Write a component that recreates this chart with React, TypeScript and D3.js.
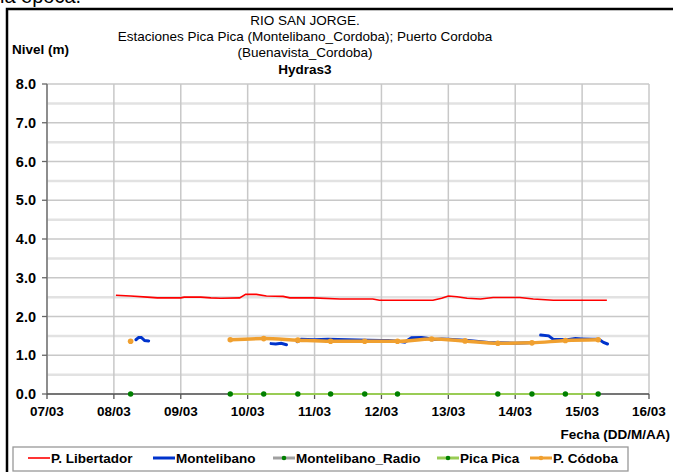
import React from "react";
import * as d3 from "d3";

// ---- DATA (decimal day of March) ----
const titleLines = [
  "RIO SAN JORGE.",
  "Estaciones Pica Pica (Montelibano_Cordoba); Puerto Cordoba",
  "(Buenavista_Cordoba)",
];
const subtitle = "Hydras3";
const yTicks = [0, 1, 2, 3, 4, 5, 6, 7, 8];
const xDays = [7, 8, 9, 10, 11, 12, 13, 14, 15, 16];

const libertador: [number, number][] = [
  [8.03, 2.55], [8.25, 2.53], [8.5, 2.5], [8.65, 2.48], [9.0, 2.48], [9.05, 2.5],
  [9.3, 2.5], [9.45, 2.48], [9.6, 2.47], [9.88, 2.48], [9.97, 2.57], [10.13, 2.57],
  [10.28, 2.53], [10.53, 2.52], [10.63, 2.48], [10.98, 2.48], [11.38, 2.45],
  [11.87, 2.45], [11.97, 2.42], [12.77, 2.42], [12.9, 2.47], [13.0, 2.53],
  [13.13, 2.51], [13.28, 2.47], [13.48, 2.45], [13.67, 2.49], [14.07, 2.49],
  [14.27, 2.45], [14.57, 2.42], [15.37, 2.42],
];

// null value = gap
const montelibano: [number, number | null][] = [
  [8.33, 1.4], [8.37, 1.46], [8.41, 1.46], [8.46, 1.38], [8.52, 1.37], [8.6, null],
  [10.35, 1.3], [10.42, 1.29], [10.5, 1.31], [10.58, 1.27], [10.66, null],
  [10.74, 1.35], [10.8, 1.41], [11.0, 1.4], [11.2, 1.41], [11.5, 1.4], [11.8, 1.39],
  [12.0, 1.38], [12.1, 1.38], [12.25, 1.36], [12.35, 1.34], [12.45, 1.45],
  [12.6, 1.46], [12.68, 1.44], [12.75, 1.4], [12.9, 1.42], [13.0, 1.41],
  [13.3, 1.38], [13.6, 1.33], [14.0, 1.31], [14.2, 1.32], [14.3, null],
  [14.38, 1.52], [14.5, 1.5], [14.57, 1.41], [14.78, 1.4], [14.9, 1.43],
  [15.0, 1.42], [15.15, 1.41], [15.25, 1.41], [15.32, 1.33], [15.38, 1.29],
];

const montelibanoRadio: [number, number | null][] = [];

const picaPica: [number, number | null][] = [
  [8.25, 0], [9.0, null], [9.74, 0], [10.24, 0], [10.75, 0], [11.24, 0],
  [11.75, 0], [12.24, 0], [13.74, 0], [14.25, 0], [14.75, 0], [15.24, 0],
];

const codoba: [number, number | null][] = [
  [8.25, 1.36], [9.0, null], [9.74, 1.4], [10.24, 1.43], [10.75, 1.39],
  [11.24, 1.36], [11.75, 1.36], [12.24, 1.36], [12.75, 1.42], [13.25, 1.37],
  [13.74, 1.31], [14.25, 1.32], [14.75, 1.38], [15.24, 1.4],
];

const legendItems = ["P. Libertador", "Montelibano", "Montelibano_Radio", "Pica Pica", "P. Códoba"];

// ---- STYLE ----
const C_RED = "#ff0000";
const C_BLUE = "#0033cc";
const C_GRAY = "#a0a0a0";
const C_GREEN_LINE = "#99cc55";
const C_GREEN_DOT = "#008000";
const C_ORANGE = "#f0a030";
const FONT = "Arial, 'Liberation Sans', sans-serif";

const W = 673, H = 472;
const plot = { left: 47, right: 649, top: 84, bottom: 394 };

const toDate = (d: number) => new Date(2011, 2, 1 + Math.floor(d) - 1, 0, 0, 0, Math.round((d - Math.floor(d)) * 86400000));

export default function App() {
  const x = d3.scaleTime().domain([toDate(7), toDate(16)]).range([plot.left, plot.right]);
  const y = d3.scaleLinear().domain([0, 8]).range([plot.bottom, plot.top]);
  const fmt = d3.timeFormat("%d/%m");

  const line = d3
    .line<[number, number | null]>()
    .defined((d) => d[1] !== null)
    .x((d) => x(toDate(d[0])))
    .y((d) => y(d[1] as number));

  const minorY = d3.range(0.5, 8, 1);
  const legendX = [28, 153, 273, 437, 530];
  const legendY = 458;

  return (
    <svg width={W} height={H} style={{ position: "absolute", left: 0, top: 0, background: "#fff" }} fontFamily={FONT}>
      <rect x={0} y={0} width={W} height={H} fill="#fff" />
      <text x={0} y={3} fontSize={20} fill="#000">la época.</text>
      <rect x={7} y={9} width={W + 20} height={H + 20} fill="none" stroke="#000" strokeWidth={2.5} />

      {/* title */}
      {titleLines.map((t, i) => (
        <text key={t} x={305} y={25 + i * 16} textAnchor="middle" fontSize={13.5} fill="#000">{t}</text>
      ))}
      <text x={305} y={74} textAnchor="middle" fontSize={13.5} fontWeight="bold">{subtitle}</text>
      <text x={12} y={54} fontSize={13.5} fontWeight="bold">Nivel (m)</text>

      {/* grid */}
      {minorY.map((v) => (
        <line key={"m" + v} x1={plot.left} x2={plot.right} y1={y(v)} y2={y(v)} stroke="#e2e2e2" strokeWidth={2.5} />
      ))}
      {yTicks.map((v) => (
        <line key={"g" + v} x1={plot.left} x2={plot.right} y1={y(v)} y2={y(v)} stroke="#c8c8c8" strokeWidth={1.3} />
      ))}
      {xDays.map((d) => (
        <line key={"v" + d} x1={x(toDate(d))} x2={x(toDate(d))} y1={plot.top} y2={plot.bottom} stroke="#c8c8c8" strokeWidth={1.5} />
      ))}

      {/* axes */}
      <line x1={plot.left} x2={plot.left} y1={plot.top} y2={plot.bottom} stroke="#666" strokeWidth={1.3} />
      <line x1={plot.left} x2={plot.right} y1={plot.bottom} y2={plot.bottom} stroke="#555" strokeWidth={1.3} />
      {yTicks.map((v) => (
        <g key={"yt" + v}>
          <line x1={plot.left - 5} x2={plot.left} y1={y(v)} y2={y(v)} stroke="#666" strokeWidth={1.3} />
          <text x={36} y={y(v) + 5} textAnchor="end" fontSize={14.5} fontWeight="bold">{v.toFixed(1)}</text>
        </g>
      ))}
      {xDays.map((d) => (
        <g key={"xt" + d}>
          <line x1={x(toDate(d))} x2={x(toDate(d))} y1={plot.bottom} y2={plot.bottom + 5} stroke="#555" strokeWidth={1.3} />
          <text x={x(toDate(d))} y={416} textAnchor="middle" fontSize={13.5} fontWeight="bold">{fmt(toDate(d))}</text>
        </g>
      ))}
      <text x={670} y={439} textAnchor="end" fontSize={13.5} fontWeight="bold">Fecha (DD/M/AA)</text>

      {/* series */}
      <path d={line(libertador as any) || ""} fill="none" stroke={C_RED} strokeWidth={1.6} />
      <path d={line(montelibano) || ""} fill="none" stroke={C_BLUE} strokeWidth={3} strokeLinecap="round" />
      <path d={line(montelibanoRadio) || ""} fill="none" stroke={C_GRAY} strokeWidth={2} />
      <path d={line(picaPica) || ""} fill="none" stroke={C_GREEN_LINE} strokeWidth={2} />
      {picaPica.filter((d) => d[1] !== null).map((d, i) => (
        <circle key={"pp" + i} cx={x(toDate(d[0]))} cy={y(d[1] as number)} r={2.7} fill={C_GREEN_DOT} />
      ))}
      <path d={line.curve(d3.curveMonotoneX)(codoba) || ""} fill="none" stroke={C_ORANGE} strokeWidth={3.5} />
      {codoba.filter((d) => d[1] !== null).map((d, i) => (
        <circle key={"cd" + i} cx={x(toDate(d[0]))} cy={y(d[1] as number)} r={2.8} fill={C_ORANGE} />
      ))}

      {/* legend */}
      <rect x={13} y={447} width={615} height={24} fill="#fff" stroke="#999" strokeWidth={1.3} />
      {legendItems.map((name, i) => {
        const lx = legendX[i];
        const colors = [C_RED, C_BLUE, C_GRAY, C_GREEN_LINE, C_ORANGE];
        const widths = [1.6, 3, 3, 3, 3];
        return (
          <g key={name}>
            <line x1={lx} x2={lx + 22} y1={legendY} y2={legendY} stroke={colors[i]} strokeWidth={widths[i]} />
            {i >= 2 && (
              <circle cx={lx + 11} cy={legendY} r={2.3} fill={i === 4 ? C_ORANGE : C_GREEN_DOT} />
            )}
            <text x={lx + 23} y={legendY + 5} fontSize={13.5} fontWeight="bold">{name}</text>
          </g>
        );
      })}
    </svg>
  );
}
